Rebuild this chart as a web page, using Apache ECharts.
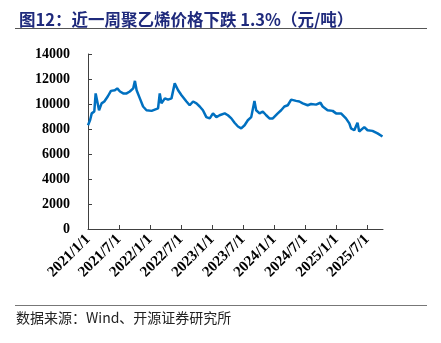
<!DOCTYPE html>
<html><head><meta charset="utf-8">
<script src="https://cdn.jsdelivr.net/npm/echarts@6/dist/echarts.min.js"></script>
<style>html,body{margin:0;padding:0;background:#fff}#c{width:441px;height:343px}</style>
</head><body><div id="c"></div>
<script>
var titleText = '图12：近一周聚乙烯价格下跌 1.3%（元/吨）';
var sourceText = '数据来源：Wind、开源证券研究所';
var xTickDates = ['2021-01-01','2021-07-01','2022-01-01','2022-07-01','2023-01-01','2023-07-01','2024-01-01','2024-07-01','2025-01-01','2025-07-01'];
var dates = ['2021-01-01','2021-01-13','2021-01-23','2021-02-07','2021-02-15','2021-02-23','2021-03-07','2021-03-22','2021-04-07','2021-04-27','2021-05-16','2021-06-08','2021-06-22','2021-07-08','2021-07-27','2021-08-16','2021-09-04','2021-09-24','2021-10-04','2021-10-14','2021-11-02','2021-11-21','2021-12-11',
'2022-01-10','2022-01-29','2022-02-17','2022-02-27','2022-03-09','2022-03-29','2022-04-17','2022-05-07','2022-05-26','2022-06-15','2022-07-05','2022-08-03','2022-08-22','2022-09-11','2022-10-01','2022-10-20','2022-11-08','2022-11-28','2022-12-18',
'2023-01-06','2023-01-26','2023-02-14','2023-03-16','2023-04-04','2023-04-24','2023-05-13','2023-06-02','2023-06-21','2023-07-11','2023-07-30','2023-08-19','2023-09-07','2023-09-17','2023-10-07','2023-10-26','2023-11-15','2023-12-04','2023-12-24',
'2024-01-03','2024-01-22','2024-02-11','2024-03-01','2024-03-21','2024-04-10','2024-04-19','2024-05-09','2024-05-28','2024-06-17','2024-07-16','2024-08-05','2024-09-03','2024-09-29','2024-10-12','2024-11-10','2024-12-10','2024-12-30',
'2025-01-28','2025-02-26','2025-03-18','2025-03-28','2025-04-16','2025-05-05','2025-05-15','2025-06-14','2025-07-03','2025-08-01','2025-08-31','2025-09-29'];
var prices = [8300,8700,9250,9400,10850,10700,9500,10050,10200,10600,11050,11100,11250,11000,10850,10850,11000,11250,11850,11100,10450,9800,9500,
9450,9550,9650,10850,10050,10450,10350,10450,11650,11100,10700,10200,9900,10200,10050,9800,9500,8950,8850,
9250,8950,9100,9250,9100,8850,8500,8200,8050,8300,8700,8950,10250,9500,9250,9400,9100,8850,8850,
8950,9250,9500,9800,9900,10350,10450,10250,10200,10050,9900,10000,9950,10100,9800,9500,9450,9250,
9250,8850,8450,8050,7900,8500,7800,8150,7900,7850,7650,7400];

function ts(d){return Date.UTC(+d.slice(0,4), +d.slice(5,7)-1, +d.slice(8,10));}
function fmtTick(v){var d=new Date(v);return d.getUTCFullYear()+'/'+(d.getUTCMonth()+1)+'/'+d.getUTCDate();}
var seriesData = dates.map(function(d,i){return [ts(d), prices[i]];});
var tickVals = xTickDates.map(ts);

var chart = echarts.init(document.getElementById('c'), null, {renderer:'canvas'});
chart.setOption({
  animation:false,
  backgroundColor:'#fff',
  title:{text:titleText,left:14,top:6,textStyle:{fontFamily:'"Noto Sans CJK SC", sans-serif',fontSize:16.5,fontWeight:'bold',color:'#1F2A7C'}},
  grid:{left:88,right:58,top:54,bottom:114,containLabel:false},
  xAxis:{type:'value',min:ts('2021-01-01'),max:ts('2025-10-02'),
    axisLine:{lineStyle:{color:'#404040',width:1}},
    axisTick:{show:true,inside:true,length:4,lineStyle:{color:'#404040'},customValues:tickVals},
    splitLine:{show:false},
    axisLabel:{customValues:tickVals,rotate:45,margin:8,formatter:function(v){return fmtTick(v);},fontFamily:'"Liberation Serif", serif',fontWeight:'bold',fontSize:15,color:'#000'}
  },
  yAxis:{type:'value',min:0,max:14000,interval:2000,
    axisLine:{show:true,lineStyle:{color:'#404040',width:1}},
    axisTick:{show:true,inside:true,length:4,lineStyle:{color:'#404040'}},
    splitLine:{show:false},
    axisLabel:{margin:18,formatter:function(v){return String(v);},fontFamily:'"Liberation Serif", serif',fontWeight:'bold',fontSize:14,color:'#000'}
  },
  series:[{type:'line',data:seriesData,showSymbol:false,symbol:'none',lineStyle:{color:'#0070C0',width:2.5},itemStyle:{color:'#0070C0'}}],
  graphic:[
    {type:'line',shape:{x1:15,y1:28.5,x2:427,y2:28.5},style:{stroke:'#555',lineWidth:1}},
    {type:'line',shape:{x1:15,y1:305.5,x2:427,y2:305.5},style:{stroke:'#777',lineWidth:1}},
    {type:'text',left:16,top:311,style:{text:sourceText,fontFamily:'"Noto Sans CJK SC", sans-serif',fontSize:14,fill:'#222'}}
  ]
});
</script></body></html>
